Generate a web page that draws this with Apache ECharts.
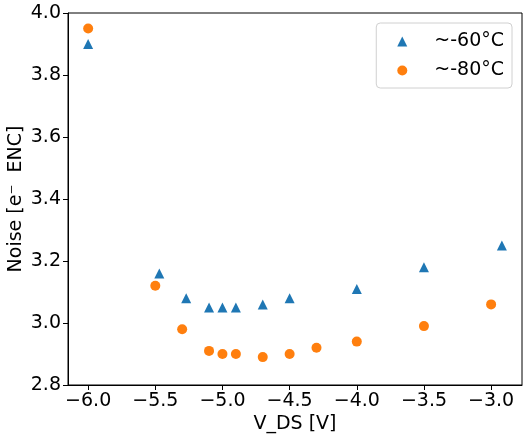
<!DOCTYPE html>
<html>
<head>
<meta charset="utf-8">
<script src="https://cdn.jsdelivr.net/npm/echarts@6/dist/echarts.min.js"></script>
<style>
html,body{margin:0;padding:0;background:#fff;}
#c{width:529px;height:439px;}
</style>
</head>
<body>
<div id="c"></div>
<script>
const vds60 = [-6.0, -5.47, -5.27, -5.1, -5.0, -4.9, -4.7, -4.5, -4.0, -3.5, -2.92];
const noise60 = [3.90, 3.16, 3.08, 3.05, 3.05, 3.05, 3.06, 3.08, 3.11, 3.18, 3.25];
const vds80 = [-6.0, -5.5, -5.3, -5.1, -5.0, -4.9, -4.7, -4.5, -4.3, -4.0, -3.5, -3.0];
const noise80 = [3.95, 3.12, 2.98, 2.91, 2.90, 2.90, 2.89, 2.90, 2.92, 2.94, 2.99, 3.06];
const xTicks = [-6.0, -5.5, -5.0, -4.5, -4.0, -3.5, -3.0];
const seriesNames = ['~-60°C', '~-80°C'];

const FONT = 'DejaVu Sans';
const FS = 19;
const fmt = v => v.toFixed(1).replace('-', '\u2212');

const chart = echarts.init(document.getElementById('c'), null, {renderer: 'canvas'});
chart.setOption({
  animation: false,
  backgroundColor: '#fff',
  textStyle: {fontFamily: FONT},
  grid: {left: 68, right: 7, top: 13, bottom: 54, show: true, borderColor: '#000', borderWidth: 1,
         containLabel: false, outerBoundsMode: 'none'},
  legend: {
    right: 17, top: 23, orient: 'vertical',
    data: [{name: seriesNames[0], icon: 'triangle'}, {name: seriesNames[1], icon: 'circle'}],
    itemWidth: 10, itemHeight: 10, itemGap: 10,
    padding: [9, 8, 8, 21],
    borderColor: '#d0d0d0', borderWidth: 1, borderRadius: 4,
    textStyle: {fontFamily: FONT, fontSize: FS, color: '#000', padding: [0, 0, 0, 22]}
  },
  xAxis: {
    type: 'value', min: -6.15, max: -2.77,
    name: 'V_DS [V]', nameLocation: 'middle', nameGap: 30, nameMoveOverlap: false,
    nameTextStyle: {fontFamily: FONT, fontSize: FS, color: '#000'},
    splitLine: {show: false},
    axisLine: {show: true, onZero: false, lineStyle: {color: '#000', width: 1}},
    axisTick: {show: true, length: 5, customValues: xTicks, lineStyle: {color: '#000'}},
    axisLabel: {customValues: xTicks, formatter: fmt, fontFamily: FONT, fontSize: FS, color: '#000', margin: 7}
  },
  yAxis: {
    type: 'value', min: 2.8, max: 4.0, interval: 0.2,
    name: 'Noise [e\u207B  ENC]', nameLocation: 'middle', nameGap: 42, nameMoveOverlap: false,
    nameTextStyle: {fontFamily: FONT, fontSize: FS, color: '#000'},
    splitLine: {show: false},
    axisLine: {show: true, lineStyle: {color: '#000', width: 1}},
    axisTick: {show: true, length: 5, lineStyle: {color: '#000'}},
    axisLabel: {formatter: fmt, fontFamily: FONT, fontSize: FS, color: '#000', margin: 7}
  },
  series: [
    {name: seriesNames[0], type: 'scatter', symbol: 'triangle', symbolSize: 10,
     itemStyle: {color: '#1f77b4', opacity: 1},
     data: vds60.map((x, i) => [x, noise60[i]])},
    {name: seriesNames[1], type: 'scatter', symbol: 'circle', symbolSize: 10,
     itemStyle: {color: '#ff7f0e', opacity: 1},
     data: vds80.map((x, i) => [x, noise80[i]])}
  ]
});
</script>
</body>
</html>
